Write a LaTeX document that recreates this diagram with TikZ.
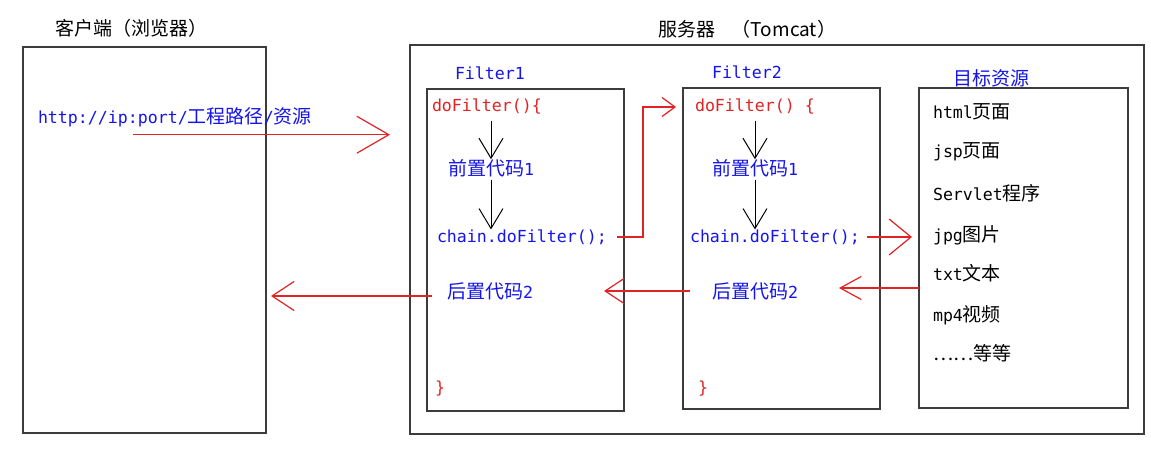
\documentclass[tikz,border=0pt]{standalone}
\usepackage{fontspec}
\setmainfont{DejaVu Sans Mono}
\newfontfamily\cjkfont{Noto Sans CJK SC}
\usetikzlibrary{arrows.meta,calc}
\definecolor{tblue}{RGB}{20,20,235}
\definecolor{tred}{RGB}{225,35,35}
\definecolor{boxgray}{RGB}{60,60,60}
\newcommand\zh[1]{{\cjkfont\fontsize{19pt}{22pt}\selectfont #1}}
\begin{document}
\begin{tikzpicture}[x=1pt,y=-1pt,
  box/.style={draw=boxgray,line width=1.5pt,inner sep=0pt,outer sep=0pt},
  txt/.style={anchor=west,inner sep=0pt,outer sep=0pt,font=\fontsize{16.6pt}{20pt}\selectfont},
  bluetxt/.style={txt,text=tblue},
  redtxt/.style={txt,text=tred},
  blacktxt/.style={txt,text=black},
  blackarrow/.style={draw=black,line width=1pt,-{Straight Barb[length=20pt,width=24pt]}},
]
\useasboundingbox (0,0) rectangle (1151,457);
\fill[white] (0,0) rectangle (1151,457);

% boxes
\node[box,minimum width=243pt,minimum height=386pt] (client) at (144.5,240) {};
\node[box,minimum width=734pt,minimum height=389pt] (srv) at (777,239.5) {};
\node[box,minimum width=197pt,minimum height=322pt] (f1) at (525.5,250) {};
\node[box,minimum width=197pt,minimum height=321pt] (f2) at (781.5,248.5) {};
\node[box,minimum width=209pt,minimum height=320pt] (tgt) at (1023.5,248) {};

% titles
\node[blacktxt] (clientlbl) at (55,28) {\zh{客户端（浏览器）}};
\node[blacktxt] (srvlbl) at (658,29) {\zh{服务器\hspace{17pt}（Tomcat）}};
\node[bluetxt] (f1lbl) at (455,73) {Filter1};
\node[bluetxt] (f2lbl) at (712,72) {Filter2};
\node[bluetxt] (tgtlbl) at (953,78) {\zh{目标资源}};

% client url
\node[bluetxt] (url) at (38,117) {http://ip:port/\zh{工程路径}/\zh{资源}};

% filter 1
\node[redtxt] (df1) at (432,107) {doFilter()\{};
\node[bluetxt] (pre1) at (448,168) {\zh{前置代码}1};
\node[bluetxt] (ch1) at (437,237) {chain.doFilter();};
\node[bluetxt] (post1) at (447,291) {\zh{后置代码}2};
\node[redtxt] (br1) at (435,389) {\}};

% filter 2
\node[redtxt] (df2) at (695,107) {doFilter() \{};
\node[bluetxt] (pre2) at (712,168) {\zh{前置代码}1};
\node[bluetxt] (ch2) at (690,237) {chain.doFilter();};
\node[bluetxt] (post2) at (712,291) {\zh{后置代码}2};
\node[redtxt] (br2) at (698,389) {\}};

% target resources
\node[blacktxt] (r1) at (933,112) {html\zh{页面}};
\node[blacktxt] (r2) at (933,152) {jsp\zh{页面}};
\node[blacktxt] (r3) at (933,193) {Servlet\zh{程序}};
\node[blacktxt] (r4) at (933,235) {jpg\zh{图片}};
\node[blacktxt] (r5) at (933,273) {txt\zh{文本}};
\node[blacktxt] (r6) at (933,315) {mp4\zh{视频}};
\node[blacktxt] (r7) at (933,353) {\zh{……等等}};

% request arrow
\draw[draw=tred,line width=1.2pt,-{Straight Barb[length=32pt,width=37pt]}]
  ($(url.south west)+(95,8)$) -- ($(url.south west -| srv.west)+(-20,8)$);

% black arrows inside filters
\draw[blackarrow,shorten <=6pt] (df1.south -| pre1.north) -- (pre1.north);
\draw[blackarrow,shorten <=3pt] (pre1.south) -- (pre1.south |- ch1.north);
\draw[blackarrow,shorten <=6pt] (df2.south -| pre2.north) -- (pre2.north);
\draw[blackarrow,shorten <=3pt] (pre2.south) -- (pre2.south |- ch2.north);

% chain to filter 2
\coordinate (bend1) at (643,0);
\draw[draw=tred,line width=1.2pt,-{Straight Barb[length=13pt,width=19pt]},shorten <=10pt,shorten >=19pt]
  (ch1.east) -- (bend1 |- ch1.east) -- (bend1 |- df2.west) -- (df2.west);

% chain to target
\draw[draw=tred,line width=1.2pt,-{Straight Barb[length=22pt,width=36pt]},shorten <=7pt,shorten >=7pt]
  (ch2.east) -- (ch2.east -| tgt.west);

% return arrows
\draw[draw=tred,line width=1.2pt,-{Straight Barb[length=21pt,width=23pt]}]
  ($(tgt.west |- post2.east)+(0,-3)$) -- ($(f2.east |- post2.east)+(-41,-3)$);
\draw[draw=tred,line width=1.2pt,-{Straight Barb[length=19pt,width=25pt]},shorten <=22pt]
  (post2.west) -- ($(f1.east |- post2.west)+(-20,0)$);
\draw[draw=tred,line width=1.2pt,-{Straight Barb[length=22pt,width=29pt]},shorten <=15pt]
  ($(post1.west)+(0,5)$) -- ($(client.east |- post1.west)+(5,5)$);
\end{tikzpicture}
\end{document}
